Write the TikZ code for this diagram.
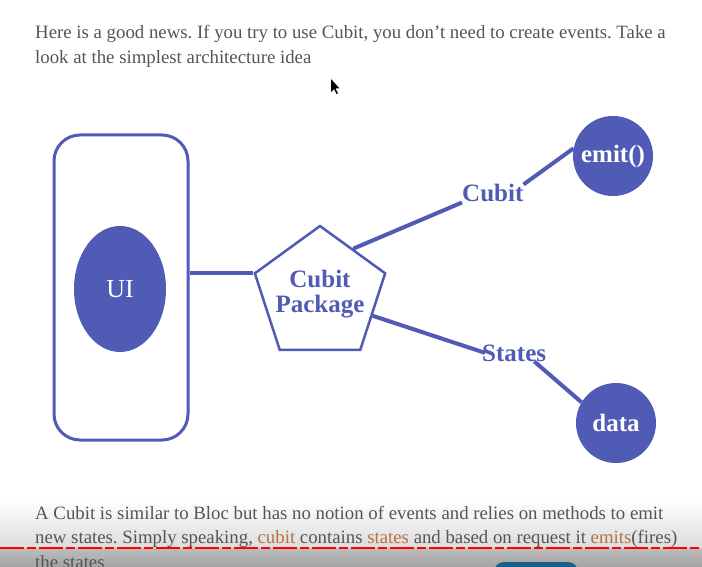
\documentclass[tikz,border=0pt]{standalone}
\usepackage{fontspec}
\setmainfont{Liberation Serif}
\usetikzlibrary{shapes.geometric,positioning}
\definecolor{CubitBlue}{RGB}{79,91,180}
\definecolor{BodyGray}{RGB}{85,85,85}
\definecolor{WordBrown}{RGB}{184,114,64}
\definecolor{BarTeal}{RGB}{22,96,136}
\frenchspacing

\begin{document}
\begin{tikzpicture}[x=1pt, y=-1pt,
    para/.style={anchor=base west, inner sep=0pt, text=BodyGray,
                 font=\fontsize{18.8}{24}\selectfont},
    frame/.style={draw=CubitBlue, line width=3pt, rounded corners=26pt,
                  minimum width=134pt, minimum height=305pt},
    blob/.style={fill=CubitBlue, text=white, inner sep=0pt},
    pkgshape/.style={regular polygon, regular polygon sides=5, draw=CubitBlue,
                     line width=2.5pt, minimum size=137pt, inner sep=0pt, align=center,
                     text=CubitBlue, font=\fontsize{25}{25}\selectfont\bfseries},
    tag/.style={anchor=base west, inner sep=0pt, text=CubitBlue,
                font=\fontsize{25}{25}\selectfont\bfseries},
    link/.style={draw=CubitBlue, line width=4pt}
]
    \useasboundingbox (0,0) rectangle (702,567);
    \clip (0,0) rectangle (702,567);
    \fill[white] (0,0) rectangle (702,567);

    % page shading at the bottom
    \shade[top color=white, bottom color=black!14] (0,500) rectangle (702,548);
    \shade[top color=black!26, bottom color=black!36] (0,548) rectangle (702,567);

    % text above the picture
    \node[para] (intro1) at (35,39) {Here is a good news. If you try to use Cubit, you don’t need to create events. Take a};
    \node[para] (intro2) at (35,64) {look at the simplest architecture idea};
    \fill[black] (331,79) -- (331,92) -- (334,89) -- (336.5,94) -- (338,93.3)
        -- (335.5,88.5) -- (339.5,88.5) -- cycle;

    % diagram
    \node[frame] (uibox) at (121,287.5) {};
    \node[blob, ellipse, minimum width=92pt, minimum height=126pt,
          font=\fontsize{26}{26}\selectfont] (ui) at (120,289) {UI};
    \node[pkgshape] (pkg) at (320,294.5) {\makebox[0pt]{Cubit}\\\makebox[0pt]{Package}};
    \node[blob, circle, minimum size=80pt, font=\fontsize{25}{25}\selectfont\bfseries]
        (emit) at (613,156) {emit()};
    \node[blob, circle, minimum size=80pt, font=\fontsize{25}{25}\selectfont\bfseries]
        (data) at (616,423) {data};
    \node[tag] (cubittag) at (462,202) {Cubit};
    \node[tag] (statestag) at (482,361) {States};

    \draw[link] (pkg.corner 2) -- (pkg.corner 2 -| uibox.east);
    \draw[link] (pkg.54) -- (cubittag.south west);
    \draw[link] (cubittag.north east) -- (emit.169);
    \draw[link] (pkg.-22) -- ([xshift=3pt]statestag.west);
    \draw[link] ([xshift=-12pt]statestag.south east) -- (data.149);

    % text below the picture
    \node[para] (note1) at (35,519) {A Cubit is similar to Bloc but has no notion of events and relies on methods to emit};
    \node[para] (note2) at (35,543) {new states. Simply speaking, \textcolor{WordBrown}{cubit} contains
        \textcolor{WordBrown}{states} and based on request it \textcolor{WordBrown}{emits}(fires)};
    \node[para] (note3) at (35,568) {the states};
    \draw[red, line width=2.5pt, dash pattern=on 24pt off 3pt on 9pt off 3pt] (0,548) -- (702,548);
    \fill[BarTeal, rounded corners=10pt] (494,562) rectangle (578,592);
\end{tikzpicture}
\end{document}
